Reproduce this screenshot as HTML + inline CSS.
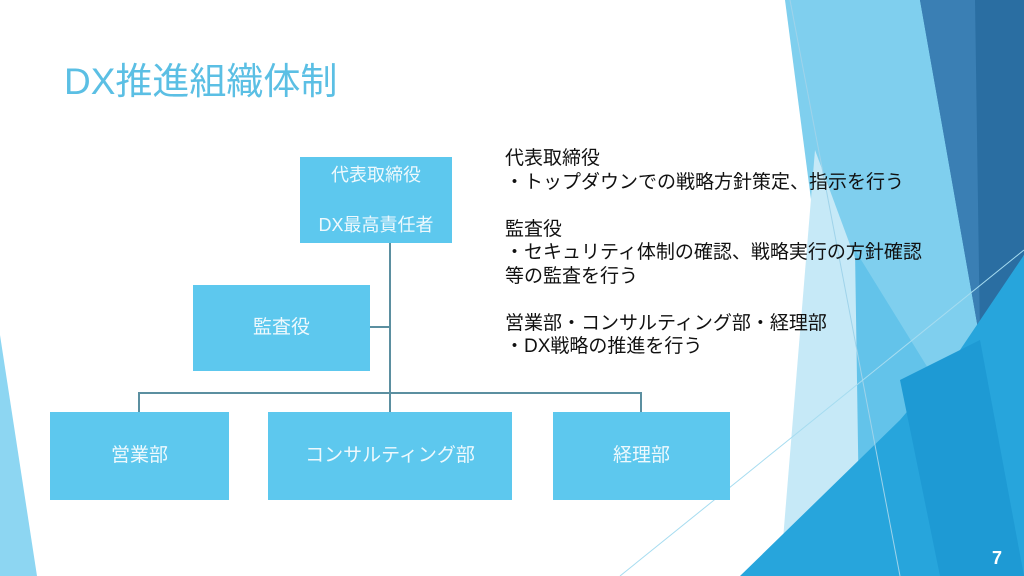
<!DOCTYPE html>
<html><head><meta charset="utf-8"><style>
body{margin:0;width:1024px;height:576px;overflow:hidden;background:#fff;font-family:"Liberation Sans","Noto Sans CJK JP",sans-serif;position:relative}
.b{position:absolute;background:#5dc8ee;color:#eef9fd;font-size:19px;display:flex;align-items:center;justify-content:center;text-align:center;padding-bottom:6px;box-sizing:border-box}
.t{position:absolute;left:505px;top:147px;font-size:19px;line-height:23.5px;color:#111;white-space:pre}
</style></head><body>
<svg width="1024" height="576" style="position:absolute;left:0;top:0">
<polygon points="0,335 37,576 0,576" fill="#8dd6f2"/>
<polygon points="785,0 925,0 1024,300 1024,576 860,576" fill="#7fcfee"/>
<polygon points="815,150 900,380 860,576 780,576" fill="#c6e9f7"/>
<polygon points="855,250 960,420 920,576 860,576" fill="#63c3ea"/>
<polygon points="920,0 1024,0 1024,255 980,340" fill="#2a6ea2"/>
<polygon points="920,0 975,0 980,340" fill="#3a7fb4"/>
<polygon points="1024,255 1024,576 740,576 900,420 960,350" fill="#27a5dc"/>
<polygon points="900,380 980,340 1024,576 940,576" fill="#1e9ad4"/>
<line x1="790" y1="0" x2="900" y2="576" stroke="#9fd3ea" stroke-width="1"/>
<line x1="620" y1="576" x2="1024" y2="250" stroke="#a6dcf0" stroke-width="1"/>
<g stroke="#5b8fa0" stroke-width="2" fill="none">
<line x1="390" y1="243" x2="390" y2="412"/>
<line x1="370" y1="327" x2="390" y2="327"/>
<polyline points="139,412 139,393 641,393 641,412"/>
</g>
</svg>
<div style="position:absolute;left:64px;top:51px;font-size:37px;color:#5bbfe4">DX推進組織体制</div>
<div class="b" style="left:300px;top:157px;width:152px;height:86px;line-height:25px;font-size:18px;padding-bottom:0">代表取締役<br><br>DX最高責任者</div>
<div class="b" style="left:193px;top:285px;width:177px;height:86px">監査役</div>
<div class="b" style="left:50px;top:412px;width:179px;height:88px">営業部</div>
<div class="b" style="left:268px;top:412px;width:244px;height:88px">コンサルティング部</div>
<div class="b" style="left:553px;top:412px;width:177px;height:88px">経理部</div>
<div class="t">代表取締役
・トップダウンでの戦略方針策定、指示を行う

監査役
・セキュリティ体制の確認、戦略実行の方針確認
等の監査を行う

営業部・コンサルティング部・経理部
・DX戦略の推進を行う</div>
<div style="position:absolute;left:992px;top:548px;font-size:18px;font-weight:bold;color:#fff">7</div>
</body></html>
